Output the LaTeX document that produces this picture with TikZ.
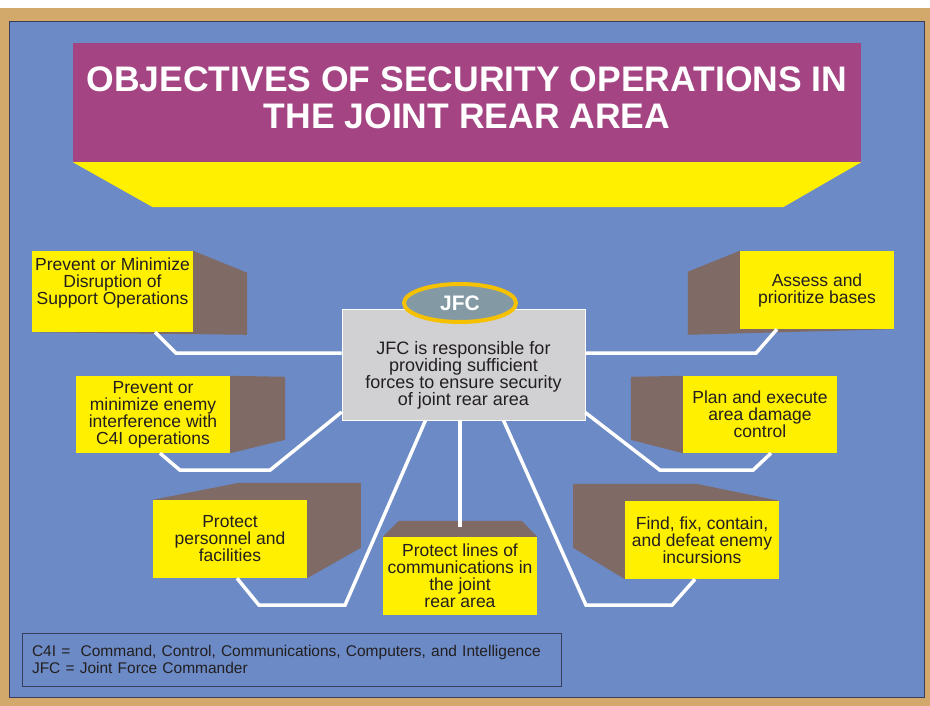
\documentclass[tikz,border=0pt]{standalone}
\usepackage{fontspec}
\setmainfont{Liberation Sans}
\usetikzlibrary{shapes.geometric}
\definecolor{tanframe}{HTML}{D3A96B}
\definecolor{slate}{HTML}{6B8AC6}
\definecolor{plum}{HTML}{A44482}
\definecolor{lemon}{HTML}{FFF000}
\definecolor{umber}{HTML}{7F6A65}
\definecolor{ash}{HTML}{D1D1D3}
\definecolor{steel}{HTML}{8399A4}
\definecolor{gold}{HTML}{F5C100}
\definecolor{ink}{HTML}{231F20}
\definecolor{rim}{HTML}{3A3D5C}
\pgfdeclarelayer{backdrop}
\pgfsetlayers{backdrop,main}

\begin{document}
\begin{tikzpicture}[x=1pt, y=-1pt,
  objbox/.style={fill=lemon, text=ink, inner sep=0pt, align=center,
    font=\fontsize{17.5}{17}\selectfont, minimum width=154pt, minimum height=78pt},
  objtext/.style={text=ink, inner sep=0pt, align=center, font=\fontsize{17.5}{17}\selectfont},
  backface/.style={fill=umber},
  link/.style={draw=white, line width=3.5pt},
  titletext/.style={text=white, inner sep=0pt, align=center, font=\fontsize{35.5}{37}\bfseries\selectfont}]
	\useasboundingbox (0,0) rectangle (930,706);
	\begin{pgfonlayer}{backdrop}
		\fill[white] (0,0) rectangle (930,706);
		\fill[tanframe] (0,8) rectangle (930,706);
		\filldraw[fill=slate, draw=rim, line width=0.8pt] (9,21) rectangle (924,697);
	\end{pgfonlayer}

	\node[fill=plum, minimum width=788pt, minimum height=119pt, inner sep=0pt] (title) at (467,102.5) {};
	\fill[lemon] (title.south west) -- (title.south east) -- ++(-78,45) -- ([xshift=80pt,yshift=-45pt]title.south west) -- cycle;
	\node[titletext] (titletxt) at ([yshift=5pt]title.center) {OBJECTIVES OF SECURITY OPERATIONS IN\\THE JOINT REAR AREA};

	\node[fill=ash, draw=white, line width=0.6pt, minimum width=243pt, minimum height=111pt] (resp) at (463.5,364.5) {};
	\node[objtext, font=\fontsize{18}{17}\selectfont] (resptxt) at ([yshift=-11pt]resp.center) {JFC is responsible for\\providing sufficient\\forces to ensure security\\of joint rear area};
	\node[ellipse, fill=steel, draw=gold, line width=4pt, minimum width=112pt, minimum height=38pt, inner sep=0pt,
		text=white, font=\fontsize{21}{21}\bfseries\selectfont] (jfc) at (460,303) {JFC};

	\node[objbox, minimum width=161pt, minimum height=81pt] (disrupt) at (112.5,291.5) {};
	\node[objtext] (disrupttxt) at ([yshift=8.5pt]disrupt.center) {Prevent or Minimize\\Disruption of\\Support Operations};
	\node[objbox, minimum height=77pt] (c4iops) at (153,414.5) {Prevent or\\minimize enemy\\interference with\\C4I operations};
	\node[objbox] (assess) at (817,290) {Assess and\\prioritize bases};
	\node[objbox, minimum height=77pt] (damage) at (760,414.5) {Plan and execute\\area damage\\control};
	\node[objbox] (personnel) at (230,539) {Protect\\personnel and\\facilities};
	\node[objbox] (lines) at (460,576) {Protect lines of\\communications in\\the joint\\rear area};
	\node[objbox] (incursions) at (702,540) {Find, fix, contain,\\and defeat enemy\\incursions};

	\begin{pgfonlayer}{backdrop}
		\fill[backface] (disrupt.north east) -- ++(54,22) -- ++(0,62) -- (disrupt.south west) -- cycle;
		\fill[backface] (c4iops.north east) -- ++(55,1) -- ++(0,63) -- (c4iops.south east) -- cycle;
		\fill[backface] (assess.north west) -- ++(-52,21) -- ++(0,63) -- (assess.south east) -- cycle;
		\fill[backface] (damage.north west) -- ++(-52,1) -- ++(0,63) -- (damage.south west) -- cycle;
		\fill[backface] (personnel.north west) -- ++(86,-17) -- ++(122,0) -- ++(0,65) -- (personnel.south east) -- cycle;
		\fill[backface] (lines.north west) -- ++(16,-16) -- ++(123,0) -- (lines.north east) -- cycle;
		\fill[backface] (incursions.north east) -- ++(-83,-17) -- ++(-123,0) -- ++(0,64) -- (incursions.south west) -- cycle;
	\end{pgfonlayer}

	\draw[link] ([xshift=42.5pt]disrupt.south) -- ++(21,21) coordinate (k1) -- (k1 -| resp.west);
	\draw[link] ([xshift=7pt]c4iops.south) -- ++(20,17) -- ++(90,0) -- ([yshift=-47.5pt]resp.west);
	\draw[link] ([xshift=-40pt]assess.south) -- ++(-21,24) coordinate (k3) -- (k3 -| resp.east);
	\draw[link] ([xshift=11pt]damage.south) -- ++(-18,17) -- ++(-93,0) -- ([yshift=-48pt]resp.east);
	\draw[link] ([xshift=7pt]personnel.south) -- ++(22,27) -- ++(86,0) -- ([xshift=-38pt]resp.south);
	\draw[link] ([yshift=10pt]lines.north) -- (lines.north |- resp.south);
	\draw[link] ([xshift=-7pt]incursions.south) -- ++(-23,26) -- ++(-86,0) -- ([xshift=40pt]resp.south);

	\node[draw=rim, line width=0.8pt, text=ink, align=left, text width=519pt, inner xsep=10pt, inner ysep=0pt,
		minimum height=53pt, font=\fontsize{15.5}{17}\selectfont] (legend) at (291.5,659.5)
		{C4I = \ Command, Control, Communications, Computers, and Intelligence\\JFC = Joint Force Commander};
\end{tikzpicture}
\end{document}
